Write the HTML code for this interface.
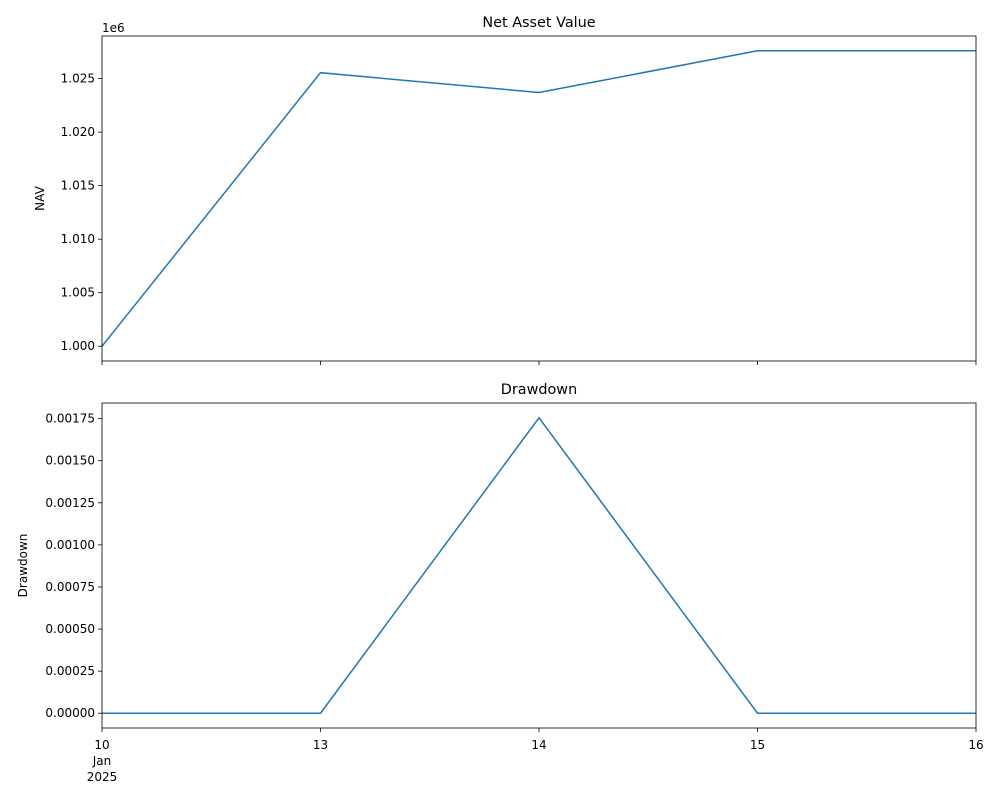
<!DOCTYPE html>
<html><head><meta charset="utf-8"><style>
body{margin:0;background:#fff}
svg text{font-family:"DejaVu Sans","Liberation Sans",sans-serif;fill:#000}
</style></head><body>
<svg id="chart" width="1000" height="800" xmlns="http://www.w3.org/2000/svg"></svg>
<script>
const dates = ["10","13","14","15","16"];
const navValues = [1000000, 1025550, 1023700, 1027600, 1027600];
const drawdownValues = [0, 0, 0.001755, 0, 0];
const navTicks = [1.000, 1.005, 1.010, 1.015, 1.020, 1.025];
const navTickLabels = ["1.000","1.005","1.010","1.015","1.020","1.025"];
const ddTicks = [0, 0.00025, 0.0005, 0.00075, 0.001, 0.00125, 0.0015, 0.00175];
const ddTickLabels = ["0.00000","0.00025","0.00050","0.00075","0.00100","0.00125","0.00150","0.00175"];

const svg = document.getElementById('chart');
const NS = 'http://www.w3.org/2000/svg';
function mk(tag, attrs, parent){const e=document.createElementNS(NS,tag);for(const k in attrs)e.setAttribute(k,attrs[k]);(parent||svg).appendChild(e);return e;}
const L=102,R=976;
const xs = i => L + i*(R-L)/(dates.length-1);

function panel(top,bottom,vals,ticks,labels,scaleMul,title,ylabel,name,showX){
  const mn=Math.min(...vals), mx=Math.max(...vals), m=(mx-mn)*0.05;
  const lo=mn-m, hi=mx+m;
  const ys = v => bottom - (v-lo)/(hi-lo)*(bottom-top);
  const g = mk('g',{});
  
  
  ticks.forEach((t,i)=>{
    const y=ys(t*scaleMul);
    const tl=mk('line',{x1:L-4,x2:L,y1:y,y2:y,stroke:'#000','stroke-width':0.8},g);
    
    
    const tx=mk('text',{x:L-7,y:y+4,'text-anchor':'end','font-size':12},g);
    
    
    tx.textContent=labels[i];
  });
  dates.forEach((d,i)=>{
    const x=xs(i);
    const tl=mk('line',{x1:x,x2:x,y1:bottom,y2:bottom+4,stroke:'#000','stroke-width':0.8},g);
    
    
    if(showX){
      const lines = i===0?[d,'Jan','2025']:[d];
      lines.forEach((s,j)=>{
        const tx=mk('text',{x:x,y:bottom+21+j*16,'text-anchor':'middle','font-size':12},g);
        
        
        tx.textContent=s;
      });
    }
  });
  const pts=vals.map((v,i)=>xs(i)+','+ys(v)).join(' ');
  const line=mk('polyline',{points:pts,fill:'none',stroke:'#1f77b4','stroke-width':1.5},g);
  
  
  const fr=mk('rect',{x:L,y:top,width:R-L,height:bottom-top,fill:'none',stroke:'#000','stroke-width':0.8},g);
  
  
  const tt=mk('text',{x:(L+R)/2,y:top-9,'text-anchor':'middle','font-size':14.4},g);
  
  
  tt.textContent=title;
  const yl=mk('text',{x:0,y:0,'text-anchor':'middle','font-size':12,transform:`translate(${name==='nav'?44:27},${(top+bottom)/2}) rotate(-90)`},g);
  
  
  yl.textContent=ylabel;
  return g;
}
panel(36,361,navValues,navTicks,navTickLabels,1e6,'Net Asset Value','NAV','nav',false);
const off=mk('text',{x:102,y:32,'font-size':12});


off.textContent='1e6';
panel(403,728,drawdownValues,ddTicks,ddTickLabels,1,'Drawdown','Drawdown','drawdown',true);
</script>
</body></html>
